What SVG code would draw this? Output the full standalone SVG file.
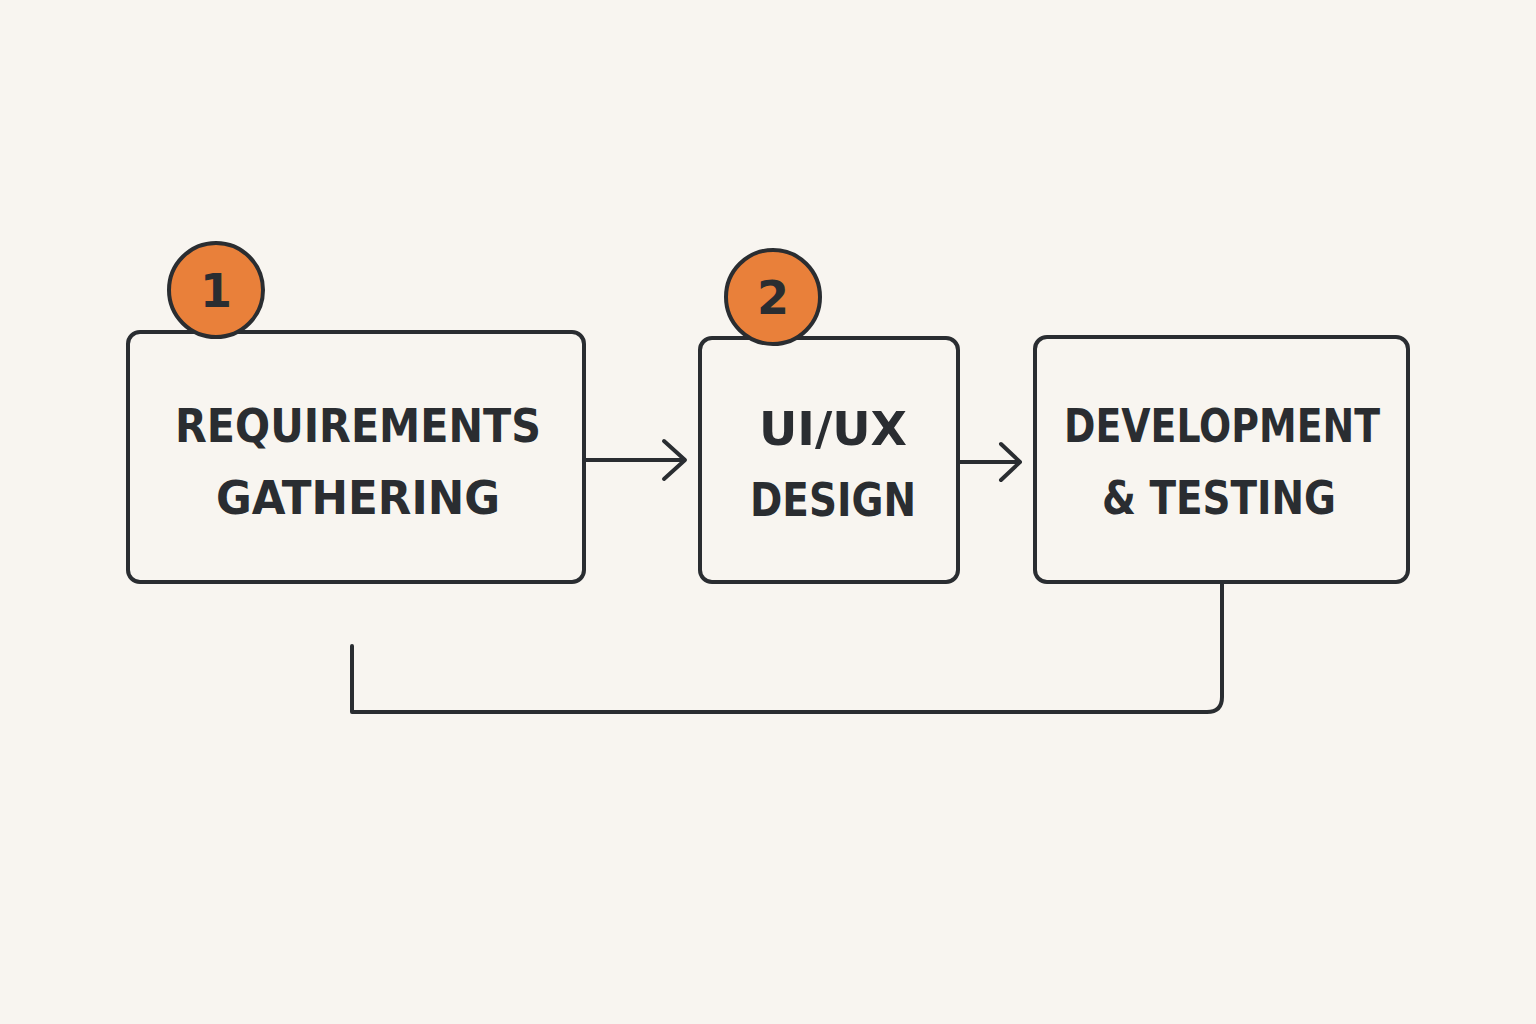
<svg xmlns="http://www.w3.org/2000/svg" width="1536" height="1024" viewBox="0 0 1536 1024">
<style>
.box{fill:none;stroke:#2a2d31;stroke-width:4}
.ln{fill:none;stroke:#2a2d31;stroke-width:4;stroke-linecap:round;stroke-linejoin:round}
.t{font-family:"DejaVu Sans Condensed","DejaVu Sans",sans-serif;font-weight:bold;font-size:46px;fill:#2a2d31;text-anchor:middle}
.badge{fill:#E9803A;stroke:#2a2d31;stroke-width:4}
.bt{font-family:"DejaVu Sans",sans-serif;font-weight:bold;font-size:46px;fill:#2a2d31;text-anchor:middle}
</style>
<rect width="1536" height="1024" fill="#F8F5F0"/>
<g id="connectors">
<line class="ln" x1="586" y1="460" x2="684" y2="460"/><path class="ln" d="M664,441 L685,460 L664,479"/>
<line class="ln" x1="960" y1="462" x2="1019" y2="462"/><path class="ln" d="M1001,444 L1020,462 L1001,480"/>
<path class="ln" d="M1222,584 L1222,697 Q1222,712 1207,712 L352,712 L352,646"/>
</g>
<g id="n1"><rect class="box" x="128" y="332" width="456" height="250" rx="12"/>
<text class="t" x="358" y="442" textLength="366" lengthAdjust="spacingAndGlyphs">REQUIREMENTS</text><text class="t" x="358" y="514" textLength="284" lengthAdjust="spacingAndGlyphs">GATHERING</text></g>
<g id="b1"><circle class="badge" cx="216" cy="290" r="47"/><text class="bt" x="216" y="307">1</text></g>
<g id="n2"><rect class="box" x="700" y="338" width="258" height="244" rx="12"/>
<text class="t" x="833" y="445" textLength="148" lengthAdjust="spacingAndGlyphs">UI/UX</text><text class="t" x="833" y="516" textLength="166" lengthAdjust="spacingAndGlyphs">DESIGN</text></g>
<g id="b2"><circle class="badge" cx="773" cy="297" r="47"/><text class="bt" x="773" y="314">2</text></g>
<g id="n3"><rect class="box" x="1035" y="337" width="373" height="245" rx="12"/>
<text class="t" x="1222" y="442" textLength="316" lengthAdjust="spacingAndGlyphs">DEVELOPMENT</text><text class="t" x="1219" y="514" textLength="234" lengthAdjust="spacingAndGlyphs">&amp; TESTING</text></g>
</svg>
